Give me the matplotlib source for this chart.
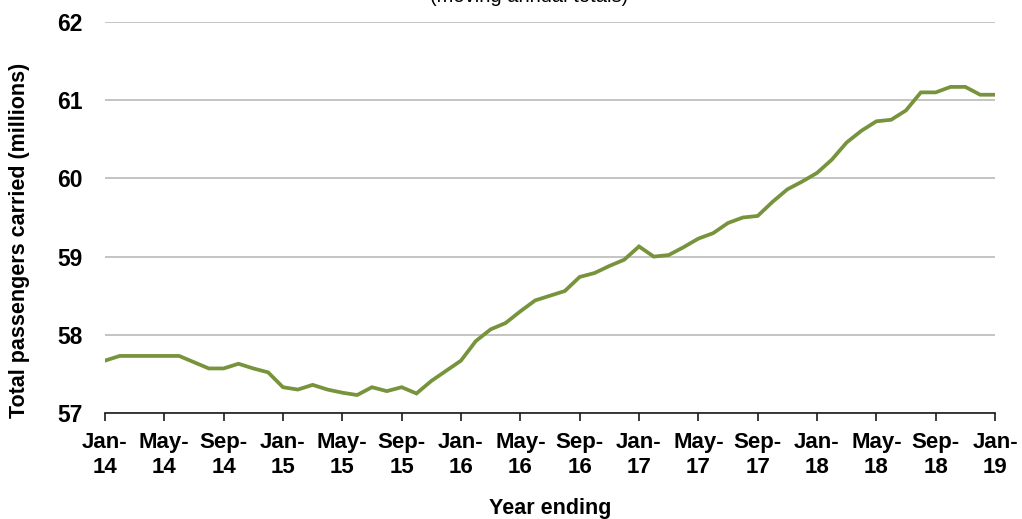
#!/usr/bin/env python3
# -*- coding: utf-8 -*-

import numpy as np
import matplotlib
matplotlib.use("Agg")
import matplotlib.pyplot as plt

plt.rcParams["font.family"] = ["Liberation Sans", "DejaVu Sans"]

# monthly moving annual totals, Jan-14 .. Jan-19 (millions)
passengers = [
    57.67, 57.73, 57.73, 57.73, 57.73, 57.73, 57.65, 57.57, 57.57, 57.63, 57.57, 57.52,  # 2014
    57.33, 57.30, 57.36, 57.30, 57.26, 57.23, 57.33, 57.28, 57.33, 57.25, 57.41, 57.54,  # 2015
    57.67, 57.92, 58.07, 58.15, 58.30, 58.44, 58.50, 58.56, 58.74, 58.79, 58.88, 58.96,  # 2016
    59.13, 59.00, 59.02, 59.12, 59.23, 59.30, 59.43, 59.50, 59.52, 59.70, 59.86, 59.96,  # 2017
    60.07, 60.24, 60.46, 60.61, 60.73, 60.75, 60.87, 61.10, 61.10, 61.17, 61.17, 61.07,  # 2018
    61.07,                                                                              # 2019
]
tick_labels = ["Jan-\n14", "May-\n14", "Sep-\n14", "Jan-\n15", "May-\n15", "Sep-\n15",
               "Jan-\n16", "May-\n16", "Sep-\n16", "Jan-\n17", "May-\n17", "Sep-\n17",
               "Jan-\n18", "May-\n18", "Sep-\n18", "Jan-\n19"]
y_ticks = [57, 58, 59, 60, 61, 62]

months = np.arange(len(passengers))

fig = plt.figure(figsize=(10.22, 5.19), dpi=100)
ax = fig.add_axes([0.1027, 0.2042, 0.8709, 0.7534])

ax.plot(months, passengers, color="#77933C", linewidth=2.7, solid_joinstyle="miter")

ax.set_xlim(0, len(passengers) - 1)
ax.set_ylim(57, 62)
ax.set_yticks(y_ticks)
ax.set_xticks(months[::4])
ax.set_xticklabels(tick_labels, fontsize=16, fontweight="bold", linespacing=1.2)
ax.set_yticklabels([str(v) for v in y_ticks], fontsize=16.5, fontweight="bold")

ax.grid(True, axis="y", color="#bfbfbf", linewidth=1.3)
ax.set_axisbelow(True)
for side in ["left", "right", "top"]:
    ax.spines[side].set_visible(False)
ax.spines["bottom"].set_color("#1a1a1a")
ax.spines["bottom"].set_linewidth(1.2)
ax.tick_params(axis="x", direction="out", length=6, width=1.2, color="#1a1a1a", pad=8)
ax.tick_params(axis="y", length=0, pad=16)

ax.set_xlabel("Year ending", fontsize=15.5, fontweight="bold", labelpad=15)
fig.text(0.019, 0.5375, "Total passengers carried (millions)", rotation=90,
         ha="center", va="center", fontsize=15.5, fontweight="bold")
fig.text(0.5176, 1 - 2 / 519, "(moving annual totals)", ha="center", va="baseline",
         fontsize=14.5)

fig.savefig("out.png", dpi=100)
